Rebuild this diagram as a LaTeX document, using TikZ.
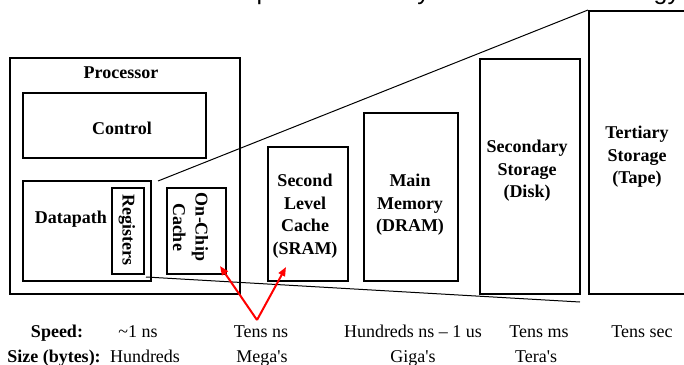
\documentclass[tikz,border=0pt]{standalone}
\usepackage{fontspec}
\setmainfont{Liberation Serif}
\newfontfamily\titlefont{Liberation Sans}
\usetikzlibrary{arrows.meta}
\begin{document}
\begin{tikzpicture}[x=1pt,y=-1pt,
  box/.style={draw, line width=2pt, rectangle, inner sep=0pt, anchor=north west},
  lbl/.style={font=\fontsize{18}{22.5}\selectfont\bfseries, align=center, inner sep=0pt},
  val/.style={font=\fontsize{18}{22}\selectfont, anchor=base, inner sep=0pt},
  persp/.style={line width=1pt},
  hint/.style={red, line width=2pt, -{Triangle[length=9pt,width=7pt]}}]
\useasboundingbox (0,0) rectangle (684,364);
\fill[white] (0,0) rectangle (684,364);
% clipped title
\node[anchor=base west, font=\titlefont\fontsize{25}{30}\selectfont, inner sep=0pt] (title) at (-2,0) {Provide access at the speed offered by the fastest technology};
% boxes
\node[box, minimum width=230pt, minimum height=236pt] (proc) at (9,57) {};
\node[box, minimum width=183pt, minimum height=65pt] (ctrl) at (22,92) {};
\node[box, minimum width=128pt, minimum height=100pt] (dp) at (22,180) {};
\node[box, minimum width=32pt, minimum height=86pt] (reg) at (111,187) {};
\node[box, minimum width=59pt, minimum height=86pt] (onchip) at (166,187) {};
\node[box, minimum width=80pt, minimum height=134pt] (l2) at (267,146) {};
\node[box, minimum width=94pt, minimum height=168pt] (mem) at (363,112) {};
\node[box, minimum width=100pt, minimum height=235pt] (sec) at (479,58) {};
\node[box, minimum width=130pt, minimum height=283pt] (tert) at (588,10) {};
% labels
\node[lbl] (procL) at (121,73) {Processor};
\node[lbl] (ctrlL) at (122,128) {Control};
\node[lbl] (dpL) at (71,219) {Datapath};
\node[lbl, rotate=-90] (regL) at (127,230) {Registers};
\node[lbl, rotate=-90] (onchipL) at (190.5,227) {On-Chip\\Cache};
\node[lbl] (l2L) at (305,216) {Second\\Level\\Cache\\(SRAM)};
\node[lbl] (memL) at (410,205) {Main\\Memory\\(DRAM)};
\node[lbl] (secL) at (527,171) {Secondary\\Storage\\(Disk)};
\node[lbl] (tertL) at (637,157) {Tertiary\\Storage\\(Tape)};
% perspective lines
\coordinate (uStart) at (158,181);
\draw[persp] (uStart) -- (tert.north west);
\coordinate (lStart) at (146,277);
\coordinate (lEnd) at (580,302);
\draw[persp] (lStart) -- (lEnd);
% red arrows
\coordinate (apex) at (257,320);
\coordinate (tipA) at (220,266);
\coordinate (tipB) at (286,267);
\draw[hint] (apex) -- (tipA);
\draw[hint] (apex) -- (tipB);
% bottom rows
\node[val, font=\fontsize{18}{22}\selectfont\bfseries] (spL) at (57,337) {Speed:};
\node[val] (sp1) at (138,337) {\textasciitilde1 ns};
\node[val] (sp2) at (261,337) {Tens ns};
\node[val] (sp3) at (413,337) {Hundreds ns -- 1 us};
\node[val] (sp4) at (539,337) {Tens ms};
\node[val] (sp5) at (642,337) {Tens sec};
\node[val, font=\fontsize{18}{22}\selectfont\bfseries] (szL) at (54,362) {Size (bytes):};
\node[val] (sz1) at (145,362) {Hundreds};
\node[val] (sz2) at (262,362) {Mega\textquotesingle s};
\node[val] (sz3) at (413,362) {Giga\textquotesingle s};
\node[val] (sz4) at (536,362) {Tera\textquotesingle s};
\end{tikzpicture}
\end{document}
